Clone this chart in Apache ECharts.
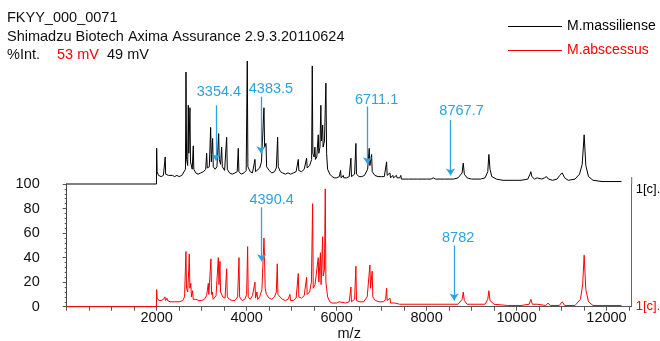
<!DOCTYPE html>
<html><head><meta charset="utf-8">
<script src="https://cdn.jsdelivr.net/npm/echarts@6/dist/echarts.min.js"></script>
<style>html,body{margin:0;padding:0;background:#fff}#c{width:660px;height:341px}</style>
</head><body><div id="c"></div>
<script>
// ---- data ----
// M.massiliense (black) — m/z and relative intensity (%), drawn above the 100 offset
var blackMz = [0,1995,2000,2010,2040,2100,2150,2190,2200,2260,2300,2350,2400,2450,2500,2560,2600,2640,2652,2665,2690,2703,2715,2740,2752,2790,2814,2826,2870,2920,2980,3040,3090,3111,3125,3170,3200,3215,3244,3258,3300,3340,3378,3392,3420,3444,3460,3510,3556,3570,3620,3680,3740,3790,3814,3828,3880,3940,3990,4014,4028,4080,4130,4160,4185,4198,4240,4290,4330,4385,4400,4430,4445,4500,4560,4620,4660,4689,4703,4750,4800,4860,4920,4980,5040,5100,5148,5160,5220,5280,5333,5346,5400,5445,5459,5472,5500,5518,5530,5560,5592,5605,5630,5650,5662,5690,5700,5730,5762,5778,5800,5850,5900,5950,6000,6060,6089,6100,6148,6160,6220,6280,6318,6330,6400,6429,6442,6500,6560,6620,6690,6724,6740,6778,6792,6850,6920,7000,7060,7111,7124,7160,7185,7200,7250,7265,7300,7330,7345,7400,7429,7440,7500,7600,7700,7800,7900,8000,8100,8148,8200,8300,8400,8500,8600,8700,8790,8815,8840,8900,9000,9100,9200,9300,9360,9385,9410,9450,9550,9700,9900,10100,10250,10300,10318,10340,10400,10458,10500,10560,10620,10667,10710,10800,10900,10960,11015,11070,11150,11300,11400,11460,11503,11540,11600,11700,11900,12100,12333];
var blackInt = [0,0,29,10,7,6,7,22,8,7,6,7,6,7,6,7,8,12,91,20,15,64,25,62,18,12,31,12,9,8,9,10,12,25,13,14,46,18,37,14,12,14,41,20,16,30,14,11,38,12,9,8,9,10,29,10,8,9,11,100,14,10,9,10,20,10,10,13,18,62,30,33,14,11,9,10,13,38,14,10,9,8,9,8,9,10,20,11,10,12,21,13,15,20,96,25,22,30,20,22,40,25,30,64,35,48,30,35,82,25,12,8,6,5,5,6,11,5,7,5,5,6,21,6,8,33,8,6,6,7,12,29,15,24,10,7,6,6,6,18,7,6,9,5,7,5,6,7,5,5,7,4,4,4,4,4,4,4,4,5,4,4,4,4,4,5,9,17,8,5,4,4,4,5,10,24,12,6,4,3,3,3,4,8,10,6,4,5,4,4,5,6,4,3,4,7,9,5,3,4,8,16,40,15,6,3,2,2,2];
// M.abscessus (red)
var redMz = [0,1995,2000,2010,2050,2100,2150,2185,2195,2230,2240,2300,2400,2500,2580,2620,2651,2663,2690,2712,2725,2738,2760,2772,2800,2812,2870,2940,3000,3060,3110,3148,3160,3207,3220,3240,3255,3320,3370,3385,3407,3420,3470,3520,3556,3570,3620,3680,3740,3800,3830,3844,3900,3960,4000,4022,4036,4080,4130,4185,4198,4230,4245,4290,4340,4385,4398,4412,4440,4500,4560,4620,4660,4681,4695,4740,4800,4860,4920,4963,4975,5040,5100,5148,5160,5220,5280,5333,5346,5400,5440,5467,5480,5520,5592,5605,5640,5655,5689,5702,5730,5748,5762,5800,5850,5900,6000,6060,6089,6100,6200,6280,6318,6330,6400,6429,6442,6520,6600,6680,6740,6755,6791,6805,6860,6950,7040,7090,7111,7124,7185,7200,7300,7400,7500,7700,7900,8100,8300,8500,8700,8790,8815,8840,8900,9100,9300,9360,9385,9410,9500,9800,10100,10280,10318,10350,10458,10500,10650,10703,10750,10950,11015,11070,11300,11420,11470,11503,11540,11600,11700,11900,12333];
var redInt = [0,0,14,7,5,5,6,8,5,7,5,4,4,4,5,8,45,15,12,30,43,15,19,8,13,6,6,5,5,6,9,19,10,39,10,12,6,9,40,18,37,12,8,7,31,8,6,5,5,8,40,8,5,6,10,49,8,6,9,20,7,12,6,8,14,56,40,15,10,7,6,8,12,35,10,8,6,5,6,10,5,5,7,27,8,7,9,24,10,12,20,84,15,18,40,20,44,18,57,25,30,96,20,8,4,3,3,4,5,3,3,4,16,4,6,33,5,4,4,8,34,15,29,8,5,4,4,6,15,5,7,3,3,2,2,2,2,2,2,2,2,6,12,5,2,2,2,6,13,5,2,1,1,2,6,2,2,1,1,3,1,1,4,1,1,6,18,42,14,4,1,1,1];
// annotations: label text, arrow m/z, arrow top and tip (% of own trace)
var blackNoteText = ['3354.4','4383.5','6711.1','8767.7'];
var blackNoteMz   = [3318, 4318, 6689, 8533];
var blackNoteTop  = [64, 71, 63, 52];
var blackNoteTip  = [19, 25, 16, 7];
var redNoteText = ['4390.4','8782'];
var redNoteMz   = [4333, 8613];
var redNoteTop  = [81, 50];
var redNoteTip  = [37, 5];
var xTickLabels = [2000,4000,6000,8000,10000,12000];
var yTickStep = 20;

// label placement tweaks (style, px): horizontal shift and gap above arrow
var blackNoteShift = [3, 10, 9, 11], blackNoteGap = [6, 0, -1, 2];
var redNoteShift = [10, 4], redNoteGap = [0, 0];

function pairs(a,b){return a.map(function(v,i){return [v,b[i]];});}
function notes(t,m,top,tip,sh,gap){return t.map(function(s,i){
  return [{name:s,coord:[m[i],top[i]],label:{padding:[0,0,0,2*sh[i]],distance:gap[i]}},{coord:[m[i],tip[i]]}];});}

var FONT = 'Liberation Sans, Arial, sans-serif';
var BLUE = '#2ba3e0';
var chart = echarts.init(document.getElementById('c'), null, {renderer:'canvas'});
var noteStyle = {
  silent:true, symbol:['none','arrow'], symbolSize:7, animation:false,
  lineStyle:{color:BLUE,width:1.3,type:'solid'},
  label:{show:true,position:'start',formatter:'{b}',color:BLUE,fontSize:14.5,fontFamily:FONT,distance:4},
  emphasis:{disabled:true}
};
var rs = {fontSize:14.5,color:'#111',fontFamily:FONT,fontWeight:'normal',lineHeight:18.5};
chart.setOption({
  animation:false,
  textStyle:{fontFamily:FONT},
  title:{left:2,top:4,text:'{a|FKYY_000_0071}\n{a|Shimadzu Biotech Axima Assurance 2.9.3.20110624}\n{p|%Int.}{r|53 mV}{a|49 mV}',
    textStyle:{fontWeight:'normal',rich:{
      a:rs,
      p:Object.assign({},rs,{width:50}),
      r:Object.assign({},rs,{width:50,color:'#f00'})}}},
  legend:{orient:'vertical',left:503,top:14.5,itemWidth:54,itemHeight:1,itemGap:10,icon:'rect',
    textStyle:{fontSize:14,fontFamily:FONT},
    data:[{name:'M.massiliense',textStyle:{color:'#000'}},{name:'M.abscessus',textStyle:{color:'#f00'}}]},
  grid:[
    {left:66.7,right:28.3,top:184,bottom:34.3,outerBoundsMode:'none',containLabel:false},
    {left:66.7,right:28.3,top:61,bottom:157,outerBoundsMode:'none',containLabel:false}
  ],
  xAxis:[
    {gridIndex:0,type:'value',min:0,max:12560,interval:500,
     axisLine:{lineStyle:{color:'#555'}},axisTick:{length:4,lineStyle:{color:'#555'}},splitLine:{show:false},
     axisLabel:{color:'#111',fontSize:14.5,margin:4,showMaxLabel:false,
       formatter:function(v){return xTickLabels.indexOf(v)>=0?String(v):'';}},
     name:'m/z',nameLocation:'middle',nameGap:18,nameTextStyle:{color:'#111',fontSize:14.5}},
    {gridIndex:1,type:'value',min:0,max:12560,show:false}
  ],
  yAxis:[
    {gridIndex:0,type:'value',min:0,max:100,interval:yTickStep,position:'left',offset:22,
     axisLine:{show:true,lineStyle:{color:'#555'}},axisTick:{show:true,length:4,lineStyle:{color:'#555'}},
     minorTick:{show:true,splitNumber:5,length:2,lineStyle:{color:'#555'}},
     splitLine:{show:false},axisLabel:{color:'#111',fontSize:14.5,margin:5}},
    {gridIndex:0,type:'value',min:0,max:100,position:'left',offset:0,
     axisLine:{show:true,lineStyle:{color:'#444'}},axisTick:{show:false},axisLabel:{show:false},splitLine:{show:false}},
    {gridIndex:0,type:'value',min:0,max:100,position:'right',offset:0,
     axisLine:{show:true,lineStyle:{color:'#666'}},axisTick:{show:false},splitLine:{show:false},
     axisLabel:{color:'#f00',fontSize:13,margin:4,formatter:function(v){return v===0?'1[c].':'';}}},
    {gridIndex:1,type:'value',min:0,max:100,position:'right',
     axisLine:{show:false},axisTick:{show:false},splitLine:{show:false},
     axisLabel:{color:'#000',fontSize:13,margin:4,verticalAlign:'top',padding:[-1,0,0,0],formatter:function(v){return v===0?'1[c].':'';}}}
  ],
  graphic:[{type:'line',shape:{x1:631.7,y1:177,x2:631.7,y2:184},style:{stroke:'#666',lineWidth:1}}],
  series:[
    {name:'M.massiliense',type:'line',xAxisIndex:1,yAxisIndex:3,data:pairs(blackMz,blackInt),
     symbol:'none',clip:false,lineStyle:{color:'#000',width:1},itemStyle:{color:'#000'},
     markLine:Object.assign({data:notes(blackNoteText,blackNoteMz,blackNoteTop,blackNoteTip,blackNoteShift,blackNoteGap)},noteStyle)},
    {name:'M.abscessus',type:'line',xAxisIndex:0,yAxisIndex:0,data:pairs(redMz,redInt),
     symbol:'none',clip:false,lineStyle:{color:'#ff0000',width:1},itemStyle:{color:'#ff0000'},
     markLine:Object.assign({data:notes(redNoteText,redNoteMz,redNoteTop,redNoteTip,redNoteShift,redNoteGap)},noteStyle)}
  ]
});
</script></body></html>
